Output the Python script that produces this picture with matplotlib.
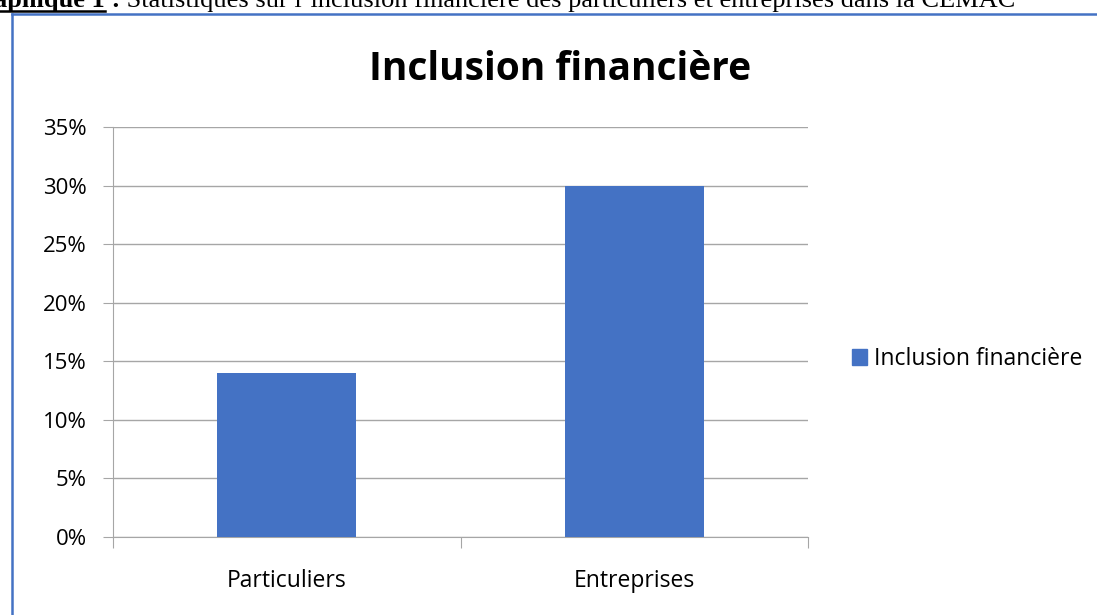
import matplotlib.pyplot as plt
from matplotlib.patches import Rectangle
from matplotlib.lines import Line2D
from matplotlib.ticker import FuncFormatter, FixedLocator

# Data
categories = ['Particuliers', 'Entreprises']
values = [0.14, 0.30]
series_name = 'Inclusion financière'
title = 'Inclusion financière'
caption_bold = 'aphique 1'
caption_colon = ' :'
caption_rest = ' Statistiques sur l\u2019inclusion financière des particuliers et entreprises dans la CEMAC'
yticks = [0, 0.05, 0.10, 0.15, 0.20, 0.25, 0.30, 0.35]

bar_color = '#4472C4'
grid_color = '#A6A6A6'
W, H = 1097, 615

fig = plt.figure(figsize=(W / 100, H / 100), dpi=100)
plt.rcParams['font.family'] = ['Open Sans', 'DejaVu Sans']

# axes in pixel coords: left 113, right 808, top 127, bottom 537
ax = fig.add_axes([113 / W, 1 - 537 / H, (808 - 113) / W, (537 - 127) / H])
x = range(len(categories))
ax.bar(x, values, width=0.4, color=bar_color, label=series_name, zorder=3)
ax.set_xlim(-0.5, 1.5)
ax.set_ylim(0, 0.35)
ax.yaxis.set_major_locator(FixedLocator(yticks))
ax.yaxis.set_major_formatter(FuncFormatter(lambda v, p: f'{v * 100:.0f}%'))
ax.grid(axis='y', color=grid_color, linewidth=1, zorder=0)
for s in ['top', 'right']:
    ax.spines[s].set_visible(False)
for s in ['left', 'bottom']:
    ax.spines[s].set_color(grid_color)
ax.tick_params(axis='y', length=7, color=grid_color, labelsize=16, pad=12)
ax.set_xticks([-0.5, 0.5, 1.5])
ax.set_xticklabels([])
ax.set_xticks(list(x), minor=True)
ax.set_xticklabels(categories, minor=True, fontsize=16.5)
ax.tick_params(axis='x', which='major', length=8, color=grid_color)
ax.tick_params(axis='x', which='minor', length=0, pad=23)

fig.text(560 / W, 1 - 69 / H, title, ha='center', va='center',
         fontsize=28, fontweight='bold')

# legend
fig.legend(handles=[Rectangle((0, 0), 1, 1, color=bar_color)], labels=[series_name],
           loc='center left', bbox_to_anchor=(843 / W, 1 - 359 / H),
           frameon=False, fontsize=16.5, handlelength=0.65, handleheight=0.65,
           handletextpad=0.3, borderaxespad=0)

# surrounding border
fig.add_artist(Line2D([12 / W, 12 / W], [0, 1 - 14 / H], color=bar_color, lw=1.8))
fig.add_artist(Line2D([12 / W, 1], [1 - 14 / H, 1 - 14 / H], color=bar_color, lw=1.8))

# caption at top (clipped by the edge, as in the source document)
base = 1 - 7 / H
t1 = fig.text(105 / W, base, caption_bold, ha='right', va='baseline',
              fontsize=19, fontweight='bold', family='Liberation Serif')
fig.add_artist(Line2D([0, 105 / W], [1 - 11 / H, 1 - 11 / H], color='black', lw=1.8))
t2 = fig.text(105 / W, base, caption_colon, ha='left', va='baseline',
              fontsize=19, fontweight='bold', family='Liberation Serif')
fig.canvas.draw()
bb = t2.get_window_extent()
fig.text(bb.x1 / W, base, caption_rest, ha='left', va='baseline',
         fontsize=19, family='Liberation Serif')

fig.savefig('out.png', dpi=100)
